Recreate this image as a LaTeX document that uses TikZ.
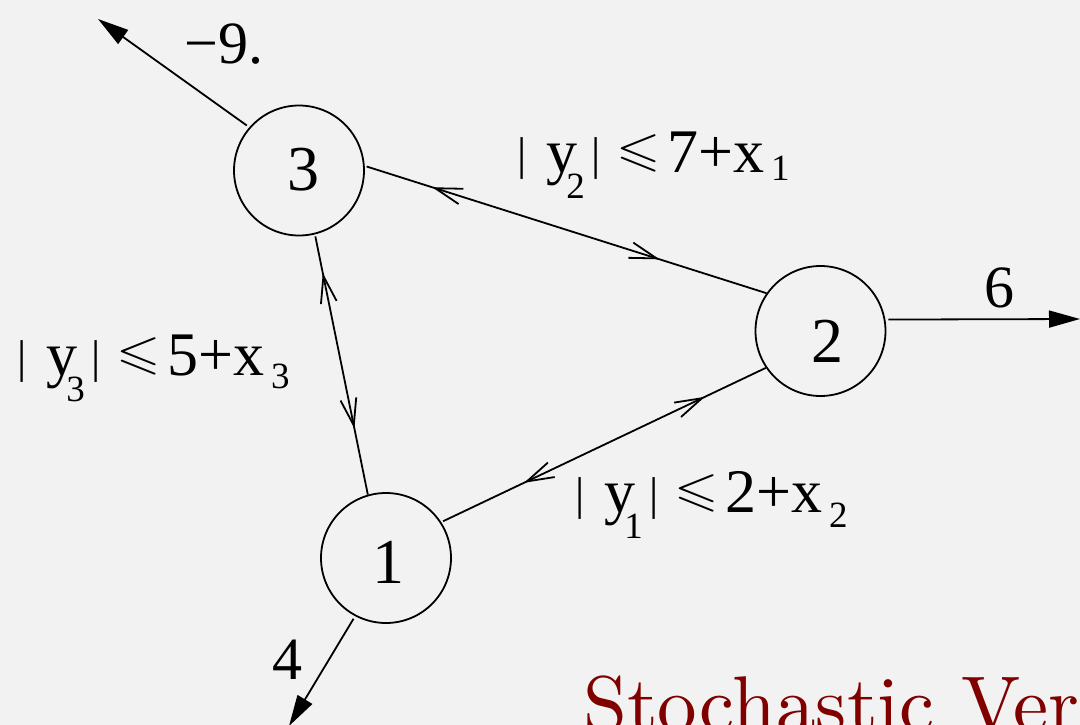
\documentclass[tikz,border=0pt]{standalone}
\usepackage{fontspec}
\usepackage{amssymb}
\usepackage{graphicx}
\usetikzlibrary{arrows.meta,decorations.markings}
\newfontfamily\tms{Liberation Serif}
\newfontfamily\lmten{lmroman10-regular.otf}
\definecolor{paper}{RGB}{242,242,242}
\definecolor{titlered}{RGB}{128,0,0}
\newcommand{\tbar}{\raisebox{3pt}{\fontsize{46}{46}\selectfont|}}
\newcommand{\subnum}[2]{\raisebox{-#1}{\fontsize{37}{37}\selectfont #2}}
\newcommand{\slle}{\raisebox{6.4pt}{\scalebox{1}[0.85]{\fontsize{57}{57}\selectfont$\leqslant$}}}
\newcommand{\cstr}[4]{\tbar\kern20pt y\kern-11pt\subnum{26pt}{#1}\kern6.3pt\tbar\kern16.3pt\slle\kern6pt #2+x\kern7pt\subnum{#4}{#3}}
\tikzset{
  vertex/.style={circle,draw,line width=1.8pt,minimum size=130pt,inner sep=0pt},
  num/.style={font=\tms\fontsize{64}{64}\selectfont,inner sep=0pt},
  lab/.style={font=\tms\fontsize{62}{62}\selectfont,inner sep=0pt,anchor=base west},
  olab/.style={font=\tms\fontsize{60}{60}\selectfont,inner sep=0pt},
  link/.style={line width=1.8pt,shorten <=2pt},
  flow/.style={line width=1.8pt,shorten <=3pt,-{Triangle[length=31pt,width=17pt]}},
  twoway/.style 2 args={postaction={decorate},decoration={markings,
    mark=at position #1 with {\arrowreversed{Straight Barb[length=27pt,width=16pt,line width=1.8pt]}},
    mark=at position #2 with {\arrow{Straight Barb[length=27pt,width=16pt,line width=1.8pt]}}}}
}
\begin{document}
\begin{tikzpicture}[x=1pt,y=-1pt]
\useasboundingbox (0,0) rectangle (1080,725);
\fill[paper] (0,0) rectangle (1080,725);
\begin{scope}
\clip (0,0) rectangle (1080,725);
\node[vertex] (n3) at (299,170.5) {};
\node[vertex] (n2) at (820.5,331) {};
\node[vertex] (n1) at (386,558) {};
\node[num] (d3) at (303.5,169.5) {3};
\node[num] (d2) at (827,341) {2};
\node[num] (d1) at (388,562) {1};
\draw[link,twoway={0.168}{0.734}] (n3.4) -- (n2.145);
\draw[link,twoway={0.148}{0.746}] (n3.-76) -- (n1.106);
\draw[link,twoway={0.255}{0.812}] (n1.33) -- (n2.-146);
\coordinate (t3) at (98,19);
\coordinate (t2) at (1080,319);
\coordinate (t1) at (289,726);
\draw[flow] (n3.139) -- (t3);
\draw[flow] (n2.10) -- (t2);
\draw[flow] (n1.-118) -- (t1);
\node[olab] (lm9) at (224,44) {−9.};
\node[olab] (l6) at (999,288) {6};
\node[olab] (l4) at (287,660) {4};
\node[lab] (c2) at (517,172) {\cstr{2}{7}{1}{8pt}};
\node[lab] (c3) at (17,375) {\cstr{3}{5}{3}{13pt}};
\node[lab] (c1) at (575,512) {\cstr{1}{2}{2}{15pt}};
\node[anchor=base west,inner sep=0pt,text=titlered,font=\lmten\fontsize{79}{79}\selectfont] (title) at (583,731) {Stochastic Ver};
\end{scope}
\end{tikzpicture}
\end{document}
